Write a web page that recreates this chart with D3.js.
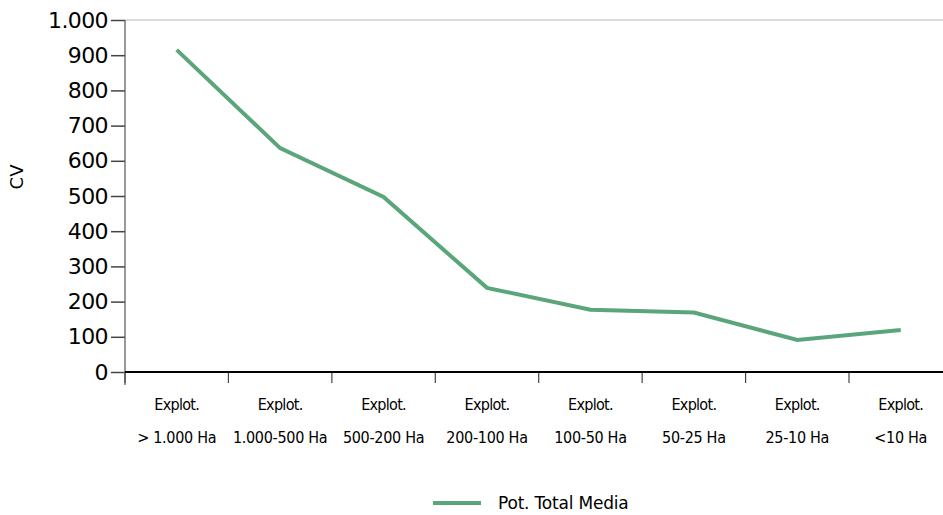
<!DOCTYPE html>
<html><head><meta charset="utf-8">
<script src="https://cdn.jsdelivr.net/npm/d3@7"></script>
<style>
body{margin:0;background:#fff;}
svg{display:block;}
</style></head>
<body>
<svg id="c" width="943" height="515"></svg>
<script>
const categoriesTop = ["Explot.","Explot.","Explot.","Explot.","Explot.","Explot.","Explot.","Explot."];
const categoriesBottom = ["> 1.000 Ha","1.000-500 Ha","500-200 Ha","200-100 Ha","100-50 Ha","50-25 Ha","25-10 Ha","<10 Ha"];
const seriesName = "Pot. Total Media";
const values = [915, 636, 497, 239, 177, 169, 91, 119];
const yTicks = [0,100,200,300,400,500,600,700,800,900,1000];
const yTickLabels = ["0","100","200","300","400","500","600","700","800","900","1.000"];
const yTitle = "CV";

(function(){
const svg = d3.select("#c");
const mLeft = 125, mTop = 20, mBottom = 372, bandW = 103.43;
const mRight = mLeft + bandW*categoriesBottom.length;
const x = d3.scaleBand().domain(d3.range(values.length)).range([mLeft, mRight]);
const y = d3.scaleLinear().domain([0,1000]).range([mBottom, mTop]);
const cond = "'DejaVu Sans Condensed','DejaVu Sans',sans-serif";
const wide = "'DejaVu Sans',sans-serif";

svg.append("line").attr("x1",mLeft).attr("x2",mRight).attr("y1",mTop).attr("y2",mTop)
  .attr("stroke","#bbb").attr("stroke-width",1);

const ya = svg.append("g").attr("transform",`translate(${mLeft},0)`)
  .call(d3.axisLeft(y).tickValues(yTicks).tickFormat((d,i)=>yTickLabels[i]).tickSize(14).tickPadding(3));
ya.select(".domain").remove();
ya.selectAll(".tick line").attr("stroke","#444").attr("stroke-width",1.5);
ya.selectAll(".tick text").attr("font-family",wide)
  .attr("font-size",22).attr("letter-spacing","-0.6px").attr("fill","#000");
svg.append("line").attr("x1",mLeft).attr("x2",mLeft).attr("y1",mTop).attr("y2",mBottom+13)
  .attr("stroke","#555").attr("stroke-width",1.2);

const xa = svg.append("g");
xa.selectAll("line").data(d3.range(values.length)).join("line")
  .attr("x1",d=>x(d)).attr("x2",d=>x(d)).attr("y1",mBottom).attr("y2",mBottom+11)
  .attr("stroke","#444").attr("stroke-width",1.2);
svg.append("line").attr("x1",mLeft).attr("x2",mRight).attr("y1",mBottom).attr("y2",mBottom)
  .attr("stroke","#000").attr("stroke-width",2);

const lab1 = svg.append("g"), lab2 = svg.append("g");
lab1.selectAll("text").data(categoriesTop).join("text")
  .attr("x",(d,i)=>x(i)+x.bandwidth()/2).attr("y",410)
  .attr("text-anchor","middle").attr("font-family",cond).attr("font-size",16)
  .attr("letter-spacing","-0.7px").text(d=>d);
lab2.selectAll("text").data(categoriesBottom).join("text")
  .attr("x",(d,i)=>x(i)+x.bandwidth()/2).attr("y",443)
  .attr("text-anchor","middle").attr("font-family",cond).attr("font-size",16)
  .attr("letter-spacing","-0.3px").text(d=>d);

svg.append("text").attr("transform","translate(23,177) rotate(-90)")
  .attr("text-anchor","middle").attr("font-family",wide)
  .attr("font-size",18).text(yTitle);

const line = d3.line().x((d,i)=>x(i)+x.bandwidth()/2).y(d=>y(d));
svg.append("path").datum(values).attr("d",line).attr("fill","none")
  .attr("stroke","#5ba57a").attr("stroke-width",4).attr("stroke-linejoin","miter");

svg.append("line").attr("x1",433).attr("x2",481).attr("y1",503).attr("y2",503)
  .attr("stroke","#5ba57a").attr("stroke-width",4);
svg.append("text").attr("x",498).attr("y",509).attr("font-family",wide)
  .attr("font-size",17).attr("letter-spacing","-0.2px").text(seriesName);
})();
</script>
</body></html>
